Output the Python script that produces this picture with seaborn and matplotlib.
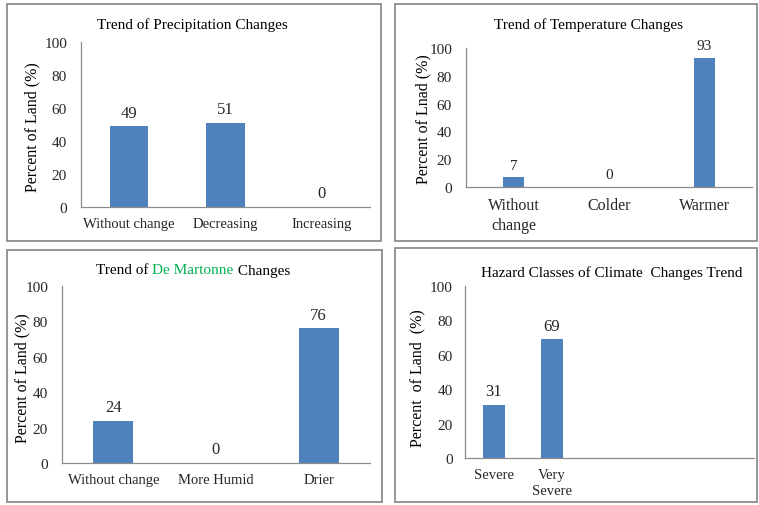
import matplotlib
matplotlib.use("Agg")
import matplotlib.pyplot as plt
from matplotlib.patches import Rectangle
import seaborn as sns

# data
precip_cats = ["Without change", "Decreasing", "Increasing"]
precip_vals = [49, 51, 0]
temp_cats = ["Without\nchange", "Colder", "Warmer"]
temp_vals = [7, 0, 93]
martonne_cats = ["Without change", "More Humid", "Drier"]
martonne_vals = [24, 0, 76]
hazard_cats = ["Severe", "Very\nSevere"]
hazard_vals = [31, 69]

sns.set_style("white")
plt.rcParams["font.family"] = ["Liberation Serif", "DejaVu Serif"]

W, H = 759, 506
BLUE = "#4F81BD"
GREY = "#8c8c8c"

fig = plt.figure(figsize=(W / 100, H / 100), dpi=100)


def box(x0, y0, x1, y1):
    fig.add_artist(Rectangle((x0 / W, 1 - y1 / H), (x1 - x0) / W, (y1 - y0) / H,
                             transform=fig.transFigure, fill=False,
                             edgecolor=GREY, lw=1.3))


def panel(x0, y0, x1, y1, cats, vals, width, tick_fs=11, cat_fs=10.5, lab_fs=12, ticklen=4):
    ax = fig.add_axes([x0 / W, 1 - y1 / H, (x1 - x0) / W, (y1 - y0) / H])
    sns.barplot(x=cats, y=vals, color=BLUE, width=width, linewidth=0, saturation=1, ax=ax)
    ax.set_ylim(0, 100)
    ax.set_yticks(range(0, 101, 20))
    ax.bar_label(ax.containers[0], fmt="%g", padding=4, fontsize=lab_fs)
    sns.despine(ax=ax)
    for s in ["left", "bottom"]:
        ax.spines[s].set_color(GREY)
        ax.spines[s].set_linewidth(0.9)
    ax.tick_params(axis="y", length=ticklen, color=GREY, width=0.8, labelsize=tick_fs,
                   pad=6 + (4 - ticklen) * 0.7)
    ax.tick_params(axis="x", length=0, labelsize=cat_fs, pad=7)
    for t in ax.get_xticklabels():
        t.set_linespacing(1.35)
    ax.set_xlabel("")
    ax.set_ylabel("")
    return ax


def label(x, y, s, size=11, rot=0, color="black"):
    fig.text(x / W, 1 - y / H, s, fontsize=size, rotation=rot, color=color,
             ha="center", va="center")


def color_title(parts, cx, cy, size):
    renderer = fig.canvas.get_renderer()
    texts = [fig.text(0, 1 - cy / H, s, color=c, fontsize=size, ha="left", va="center")
             for s, c in parts]
    widths = [t.get_window_extent(renderer).width for t in texts]
    x = cx - sum(widths) / 2
    for t, w in zip(texts, widths):
        t.set_x(x / W)
        x += w


# panel frames
box(7, 5, 381, 242)
box(395, 5, 757, 242)
box(7, 251, 382, 503)
box(395, 249, 757, 503)

# top left
panel(81, 43, 370, 208, precip_cats, precip_vals, 0.4)
label(192, 25, "Trend of Precipitation Changes", 11)
label(32, 127, "Percent of Land (%)", 11.5, 90)

# top right
panel(466, 49, 752, 188, temp_cats, temp_vals, 0.22, cat_fs=11.5, lab_fs=11)
label(588, 25, "Trend of Temperature Changes", 11)
label(423, 119, "Percent of Lnad (%)", 11.5, 90)

# bottom left
panel(62, 287, 370, 464, martonne_cats, martonne_vals, 0.39)
color_title([("Trend of ", "black"), ("De Martonne", "#00B050"), (" Changes", "black")],
            193, 271, 11)
label(22, 378, "Percent of Land (%)", 11.5, 90)

# bottom right: five slots, only two used
ax4 = panel(465, 287, 754, 459, hazard_cats, hazard_vals, 0.38, ticklen=0)
ax4.set_xlim(-0.5, 4.5)
label(612, 273, "Hazard Classes of Climate  Changes Trend", 11)
label(417, 378, "Percent  of Land  (%)", 11.5, 90)

fig.savefig("out.png", dpi=100)
